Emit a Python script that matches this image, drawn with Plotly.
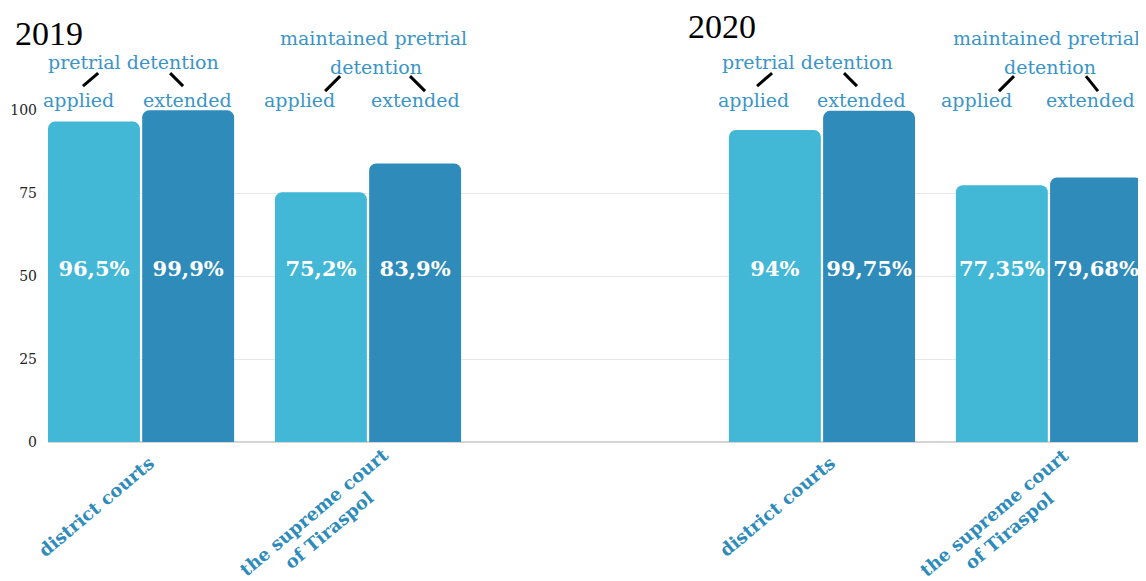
import plotly.graph_objects as go

# ---- data ----
positions = [0, 1, 3, 4]
categories = ["district courts", "the supreme court<br>of Tiraspol",
              "district courts", "the supreme court<br>of Tiraspol"]
applied = [96.5, 75.2, 94.0, 77.35]
extended = [99.9, 83.9, 99.75, 79.68]
applied_labels = ["96,5%", "75,2%", "94%", "77,35%"]
extended_labels = ["99,9%", "83,9%", "99,75%", "79,68%"]
years = ["2019", "2020"]
y_ticks = [0, 25, 50, 75, 100]

C_APPLIED = "#42B7D6"
C_EXT = "#2E8BBA"
C_TEXT = "#3A95C6"
SERIF = "DejaVu Serif"

W = 0.405
fig = go.Figure()
fig.add_trace(go.Bar(x=positions, y=applied, width=W, offset=-0.41,
                     marker=dict(color=C_APPLIED, line=dict(width=0)),
                     hoverinfo="skip"))
fig.add_trace(go.Bar(x=positions, y=extended, width=W, offset=0.005,
                     marker=dict(color=C_EXT, line=dict(width=0)),
                     hoverinfo="skip"))

# value labels (all at the same height)
lab_x = [p - 0.2075 for p in positions] + [p + 0.2075 for p in positions]
lab_t = applied_labels + extended_labels
fig.add_trace(go.Scatter(x=lab_x, y=[51.5] * len(lab_x), mode="text", text=lab_t,
                         textfont=dict(family=SERIF, size=21, color="white", weight="bold"),
                         hoverinfo="skip", cliponaxis=False))

annotations = []
shapes = []
groups = [
    dict(p=0, kind="pd", app=-0.275, ext=0.203, head=-0.035,
         l1=(-0.189, -0.256), l2=(0.128, 0.185)),
    dict(p=1, kind="mpd", app=-0.300, ext=0.211, head=0.022, head2=0.035,
         l1=(-0.123, -0.189), l2=(0.185, 0.251)),
    dict(p=3, kind="pd", app=-0.300, ext=0.173, head=-0.062,
         l1=(-0.220, -0.286), l2=(0.097, 0.154)),
    dict(p=4, kind="mpd", app=-0.320, ext=0.185, head=-0.009, head2=0.004,
         l1=(-0.154, -0.220), l2=(0.163, 0.216)),
]
hf = dict(family=SERIF, size=19, color=C_TEXT)
def ann(x, y, text):
    annotations.append(dict(x=x, y=y, xref="x", yref="paper", text=text,
                            xanchor="center", yanchor="middle",
                            showarrow=False, font=hf))
for g in groups:
    p = g["p"]
    ann(p + g["app"], 1.03, "applied")
    ann(p + g["ext"], 1.03, "extended")
    if g["kind"] == "pd":
        ann(p + g["head"], 1.145, "pretrial detention")
        ya, yb = 1.111, 1.072
    else:
        ann(p + g["head"], 1.217, "maintained pretrial")
        ann(p + g["head2"], 1.13, "detention")
        ya, yb = 1.102, 1.057
    for (x0, x1) in (g["l1"], g["l2"]):
        shapes.append(dict(type="line", xref="x", yref="paper",
                           x0=p + x0, x1=p + x1, y0=ya, y1=yb,
                           line=dict(color="black", width=3)))

# rotated, centre-aligned category labels
for p, cat in zip(positions, categories):
    two = "<br>" in cat
    annotations.append(dict(x=p, y=0, xref="x", yref="paper", text=cat,
                            xshift=-47 if two else -45, yshift=-79 if two else -64,
                            xanchor="center", yanchor="middle", align="center",
                            textangle=-40, showarrow=False,
                            font=dict(family=SERIF, size=18, color=C_EXT, weight="bold")))

# year titles
yf = dict(family="Liberation Serif", size=34, color="black")
annotations.append(dict(x=0, y=1, xref="paper", yref="paper", xshift=-35, yshift=77,
                        xanchor="left", yanchor="middle", text=years[0], showarrow=False,
                        font=yf))
annotations.append(dict(x=3, y=1, xref="x", yref="paper", xshift=-136, yshift=84,
                        xanchor="left", yanchor="middle", text=years[1], showarrow=False,
                        font=yf))

# page has an 8px body margin, so the figure is drawn 8px smaller and shifted
fig.update_layout(
    width=1138, height=573,
    margin=dict(l=40, r=4, t=102, b=139, autoexpand=False),
    paper_bgcolor="white", plot_bgcolor="white",
    showlegend=False, barmode="overlay",
    barcornerradius=7,
    annotations=annotations, shapes=shapes,
    xaxis=dict(range=[-0.41, 4.41], tickvals=positions, showticklabels=False,
               showgrid=False, zeroline=False, showline=False,
               ticks="", fixedrange=True, automargin=False),
    yaxis=dict(range=[0, 100], tickvals=y_ticks, showgrid=True, gridcolor="#e8e8e8",
               gridwidth=1, zeroline=True, zerolinecolor="#d5d5d5", zerolinewidth=2,
               showline=False, ticks="", fixedrange=True, automargin=False,
               ticklabelstandoff=10,
               tickfont=dict(family=SERIF, size=14, color="#222")),
)

fig.write_html("out.html")
